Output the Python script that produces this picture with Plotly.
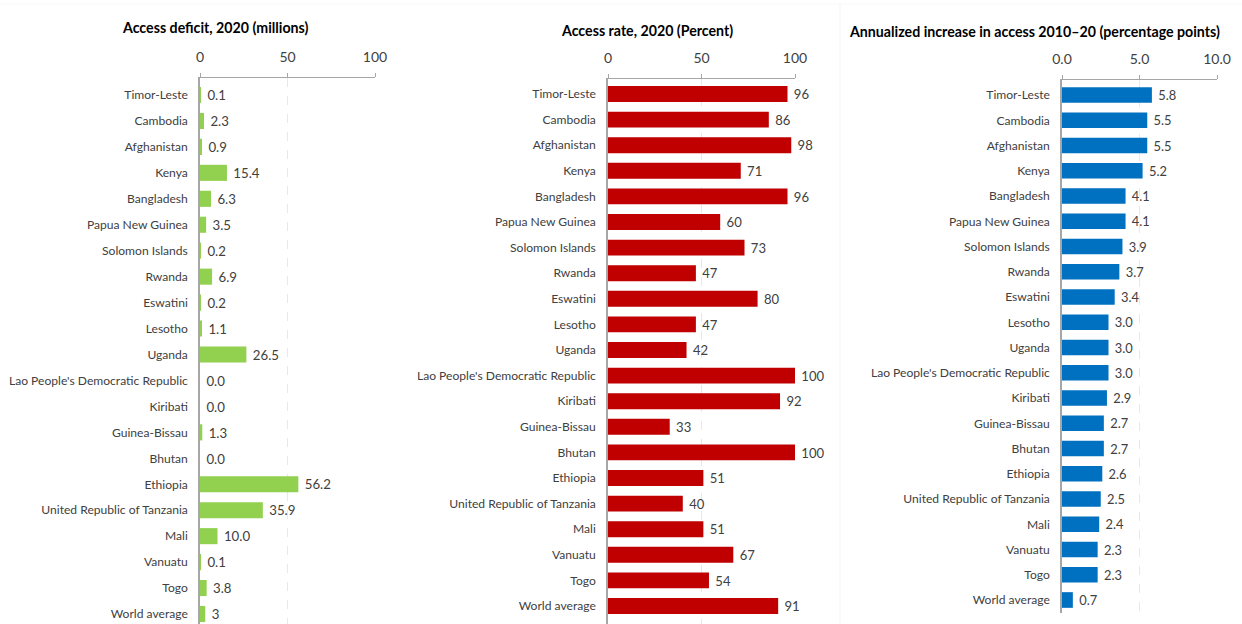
import plotly.graph_objects as go

countries = [
    "Timor-Leste", "Cambodia", "Afghanistan", "Kenya", "Bangladesh",
    "Papua New Guinea", "Solomon Islands", "Rwanda", "Eswatini", "Lesotho",
    "Uganda", "Lao People's Democratic Republic", "Kiribati", "Guinea-Bissau",
    "Bhutan", "Ethiopia", "United Republic of Tanzania", "Mali", "Vanuatu",
    "Togo", "World average",
]
access_deficit = [0.1, 2.3, 0.9, 15.4, 6.3, 3.5, 0.2, 6.9, 0.2, 1.1, 26.5,
                  0.0, 0.0, 1.3, 0.0, 56.2, 35.9, 10.0, 0.1, 3.8, 3]
deficit_labels = ["0.1", "2.3", "0.9", "15.4", "6.3", "3.5", "0.2", "6.9", "0.2",
                  "1.1", "26.5", "0.0", "0.0", "1.3", "0.0", "56.2", "35.9",
                  "10.0", "0.1", "3.8", "3"]
access_rate = [96, 86, 98, 71, 96, 60, 73, 47, 80, 47, 42, 100, 92, 33, 100,
               51, 40, 51, 67, 54, 91]
annual_increase = [5.8, 5.5, 5.5, 5.2, 4.1, 4.1, 3.9, 3.7, 3.4, 3.0, 3.0, 3.0,
                   2.9, 2.7, 2.7, 2.6, 2.5, 2.4, 2.3, 2.3, 0.7]

titles = [
    "Access deficit, 2020 (millions)",
    "Access rate, 2020 (Percent)",
    "Annualized increase in access 2010\u201320 (percentage points)",
]
x_ticks = [[0, 50, 100], [0, 50, 100], [0, 5, 10]]
x_ticktext = [["0", "50", "100"], ["0", "50", "100"], ["0.0", "5.0", "10.0"]]

W, H = 1242, 624
FONT = "Lato, Calibri, Arial, sans-serif"
TXT = "#404040"

fig = go.Figure()

panels = [
    dict(vals=access_deficit, text=deficit_labels, color="#92D050",
         xr=[0, 100], x0=200, x1=375, top=78, bottom=624, first=95, last=614),
    dict(vals=access_rate, text=[str(v) for v in access_rate], color="#C00000",
         xr=[0, 100], x0=608, x1=795, top=79, bottom=624, first=94, last=606),
    dict(vals=annual_increase, text=[f"{v:.1f}" for v in annual_increase],
         color="#0070C0", xr=[0, 10], x0=1062, x1=1217, top=80, bottom=613,
         first=95, last=600),
]

for i, p in enumerate(panels):
    n = i + 1
    suffix = "" if n == 1 else str(n)
    fig.add_trace(go.Bar(
        x=p["vals"], y=countries, orientation="h",
        marker=dict(color=p["color"], line=dict(width=0)),
        text=[" " + t for t in p["text"]], textposition="outside",
        textfont=dict(family=FONT, size=14, color=TXT),
        cliponaxis=False, width=0.62,
        xaxis="x" + suffix, yaxis="y" + suffix, showlegend=False,
        hoverinfo="x+y",
    ))
    step = (p["last"] - p["first"]) / (len(countries) - 1)
    r_top = (p["top"] - p["first"]) / step
    r_bot = (p["bottom"] - p["first"]) / step
    fig.layout["xaxis" + suffix] = dict(
        domain=[p["x0"] / W, p["x1"] / W], range=p["xr"], side="top",
        anchor="y" + suffix, tickvals=x_ticks[i], ticktext=x_ticktext[i],
        showline=True, linecolor="#A6A6A6", linewidth=1,
        ticks="outside", ticklen=4, tickcolor="#A6A6A6",
        showgrid=True, gridcolor="#E8E8E8", griddash="dash", gridwidth=1,
        zeroline=False, tickfont=dict(family=FONT, size=14, color=TXT),
        ticklabelstandoff=5, fixedrange=True, automargin=False,
    )
    fig.layout["yaxis" + suffix] = dict(
        domain=[1 - p["bottom"] / H, 1 - p["top"] / H],
        range=[r_bot, r_top], anchor="x" + suffix,
        type="category", categoryorder="array", categoryarray=countries,
        showline=True, linecolor="#A6A6A6", linewidth=1.5,
        ticks="", showgrid=False, zeroline=False,
        tickfont=dict(family=FONT, size=12.1, color=TXT),
        ticklabelstandoff=8, fixedrange=True, automargin=False,
    )

title_pos = [(215, 28), (647, 30), (1034, 31)]
for t, (cx, cy) in zip(titles, title_pos):
    fig.add_annotation(
        text=f"<b>{t}</b>", x=cx / W, y=1 - cy / H, xref="paper", yref="paper",
        xanchor="center", yanchor="middle", showarrow=False,
        font=dict(family=FONT, size=14.2, color="#000000"),
    )

# faint frame edges between panels
fig.add_shape(type="line", xref="paper", yref="paper",
              x0=840 / W, x1=840 / W, y0=0, y1=1 - 4 / H,
              line=dict(color="#F5F5F5", width=1))
fig.add_shape(type="line", xref="paper", yref="paper",
              x0=0, x1=1, y0=1 - 4 / H, y1=1 - 4 / H,
              line=dict(color="#F8F8F8", width=1))

fig.update_layout(
    width=W, height=H, margin=dict(l=0, r=0, t=0, b=0),
    plot_bgcolor="white", paper_bgcolor="white",
    font=dict(family=FONT, color=TXT),
)

fig.write_html("out.html")
